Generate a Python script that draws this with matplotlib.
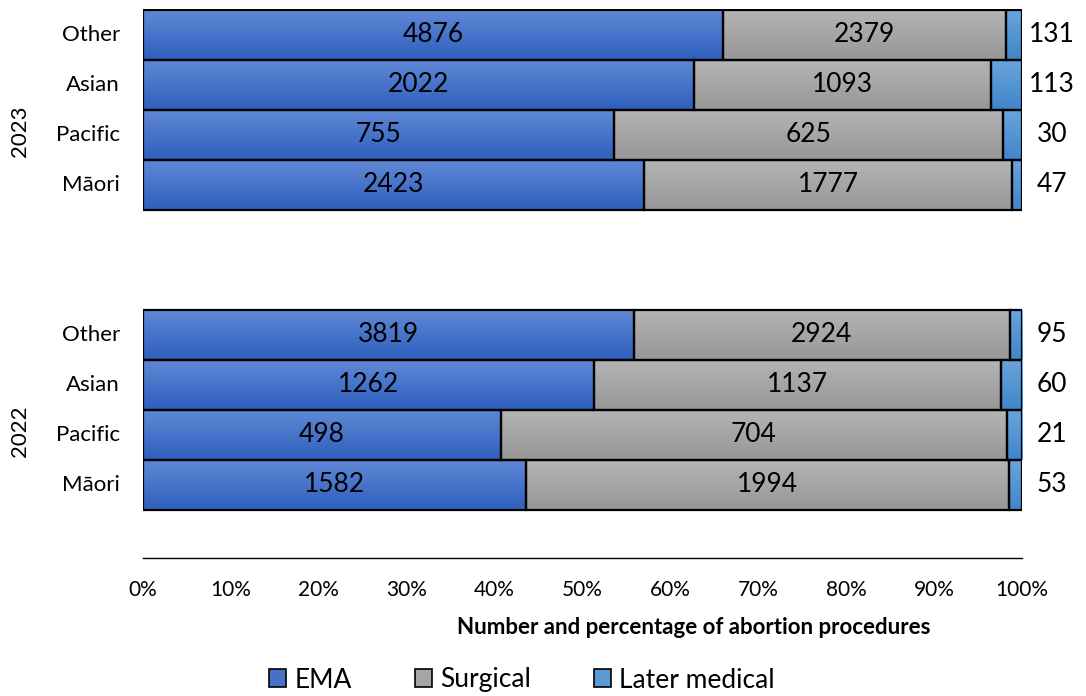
import numpy as np
import matplotlib
matplotlib.use('Agg')
from matplotlib import pyplot as plt
from matplotlib.colors import LinearSegmentedColormap

plt.rcParams['font.family'] = ['Lato', 'DejaVu Sans']

categories = ['Māori', 'Pacific', 'Asian', 'Other']
years = ['2022', '2023']
ema = {'2022': [1582, 498, 1262, 3819], '2023': [2423, 755, 2022, 4876]}
surgical = {'2022': [1994, 704, 1137, 2924], '2023': [1777, 625, 1093, 2379]}
later = {'2022': [53, 21, 60, 95], '2023': [47, 30, 113, 131]}
series_names = ['EMA', 'Surgical', 'Later medical']
ticks = np.arange(0, 101, 10)

# light top -> dark bottom for the fill gradient
shades = {
    'EMA': ('#5f88d6', '#2f5fbd'),
    'Surgical': ('#b4b4b4', '#979797'),
    'Later medical': ('#6aa4dc', '#3f86ca'),
}
flat = {'EMA': '#4472c4', 'Surgical': '#a5a5a5', 'Later medical': '#5b9bd5'}


def gradient_bar(ax, left, width, y, name, h=1.0):
    bar = ax.barh(y, width, left=left, height=h, color='none',
                  edgecolor='black', linewidth=1.6, zorder=3)[0]
    cmap = LinearSegmentedColormap.from_list(name, [shades[name][1], shades[name][0]])
    grad = np.linspace(0, 1, 64).reshape(-1, 1)
    im = ax.imshow(grad, extent=[left, left + width, y - h / 2, y + h / 2],
                   origin='lower', aspect='auto', cmap=cmap, zorder=2)
    im.set_clip_path(bar)


fig = plt.figure(figsize=(10.86, 6.96), dpi=100)
ax = fig.add_axes([143 / 1086, 1 - 558 / 696, 879 / 1086, 549 / 696])

offsets = {'2022': 0, '2023': 6}
for yr in years:
    for i, cat in enumerate(categories):
        vals = [ema[yr][i], surgical[yr][i], later[yr][i]]
        total = sum(vals)
        pct = [100 * v / total for v in vals]
        y = offsets[yr] + i
        left = 0
        for name, p, v in zip(series_names, pct, vals):
            gradient_bar(ax, left, p, y, name)
            if name == 'Later medical':
                ax.text(103.4, y, str(v), ha='center', va='center', fontsize=19)
            else:
                ax.text(left + p / 2, y, str(v), ha='center', va='center', fontsize=19)
            left += p
        ax.text(-2.6, y, cat, ha='right', va='center', fontsize=16)
    ax.text(-14, offsets[yr] + 1.08, yr, ha='center', va='center',
            rotation=90, fontsize=16)

ax.set_xlim(0, 100)
ax.set_ylim(-1.46, 9.52)
ax.set_xticks(ticks)
ax.set_xticklabels([f'{t}%' for t in ticks], fontsize=15)
ax.tick_params(axis='x', length=0, pad=16)
ax.set_yticks([])
for s in ['top', 'left', 'right']:
    ax.spines[s].set_visible(False)
ax.spines['bottom'].set_linewidth(1.0)

fig.text(694 / 1086, 1 - 628 / 696, 'Number and percentage of abortion procedures',
         ha='center', va='center', fontsize=16, fontweight='bold')

handles = [plt.Rectangle((0, 0), 1, 1, facecolor=flat[n], edgecolor='black', linewidth=1.2)
           for n in series_names]
fig.legend(handles, series_names, loc='center', bbox_to_anchor=(522 / 1086, 1 - 680 / 696),
           ncol=3, frameon=False, fontsize=19, handlelength=0.65, handleheight=0.65,
           handletextpad=0.3, columnspacing=2.4)

fig.savefig('out.png', dpi=100)
